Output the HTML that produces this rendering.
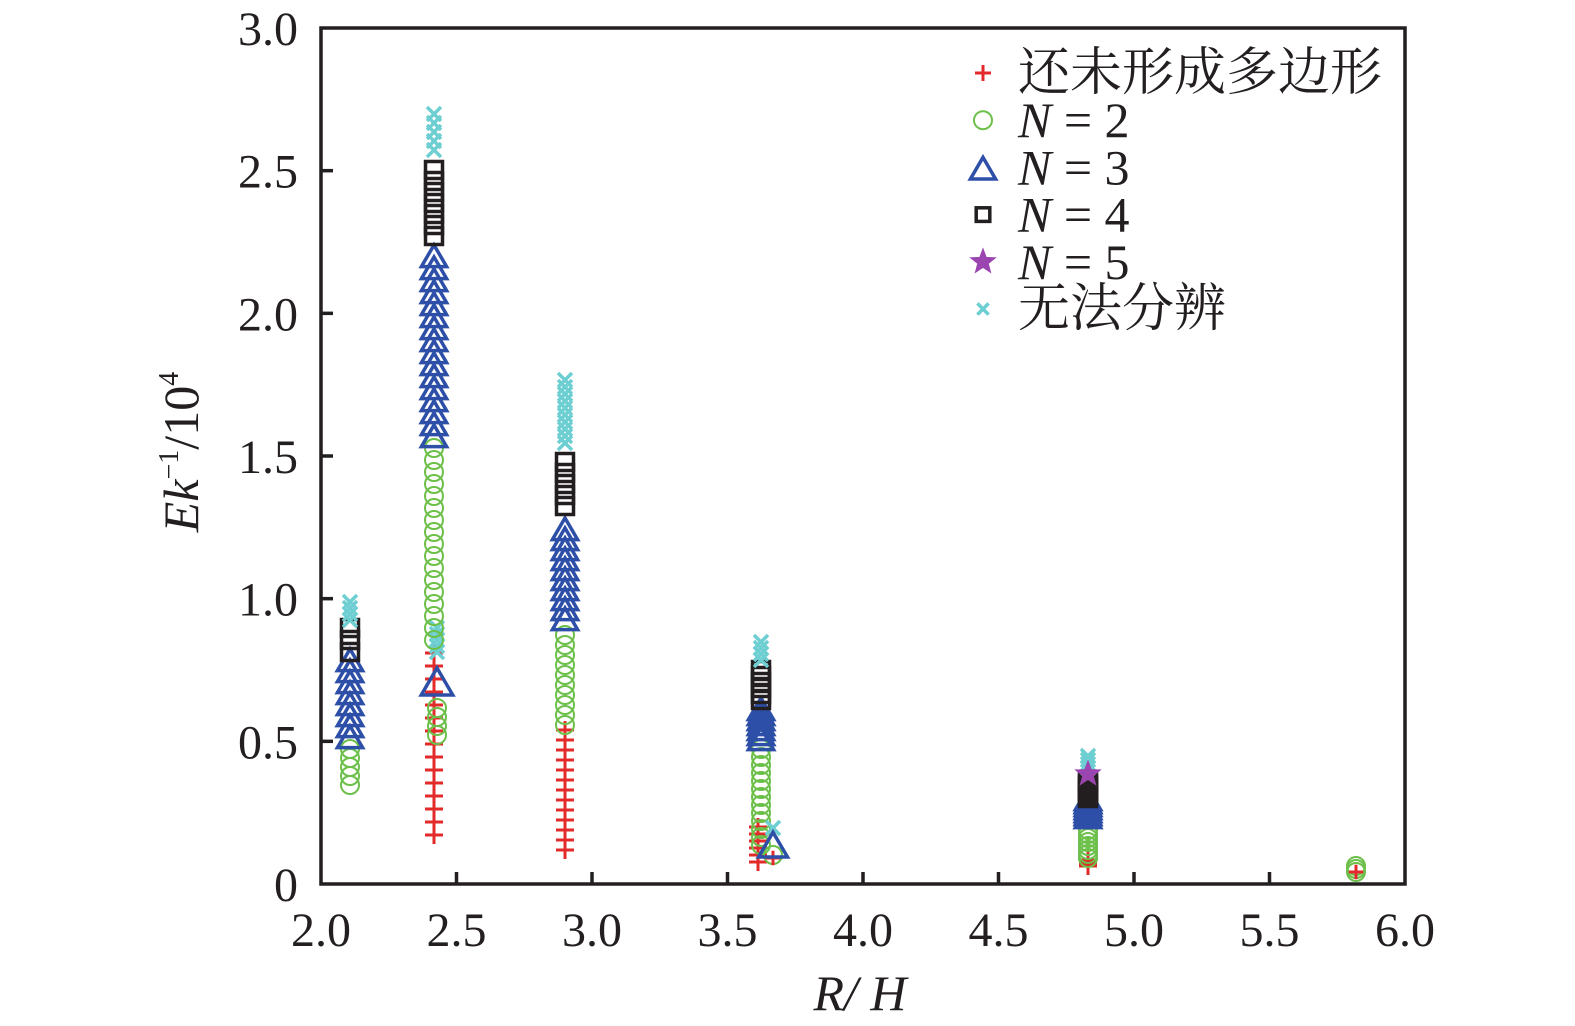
<!DOCTYPE html>
<html><head><meta charset="utf-8"><style>
html,body{margin:0;padding:0;background:#fff;width:1575px;height:1026px;overflow:hidden}
svg text{font-family:"Liberation Serif","Noto Serif CJK SC",serif;fill:#231f20}
</style></head><body>
<svg id="s" width="1575" height="1026" viewBox="0 0 1575 1026" xmlns="http://www.w3.org/2000/svg">
<g id="marks"></g>
<rect x="321" y="28" width="1084" height="856" fill="none" stroke="#231f20" stroke-width="3.5"/>
<g id="ticks" stroke="#231f20" stroke-width="3.5"></g>
<g font-size="48" text-anchor="end" id="ylab"></g>
<g font-size="48" text-anchor="middle" id="xlab"></g>
<text x="860" y="1010" font-size="50" text-anchor="middle" font-style="italic">R/ H</text>
<text transform="translate(198,452) rotate(-90)" font-size="50" text-anchor="middle"><tspan font-style="italic">Ek</tspan><tspan font-size="28" dy="-20">−1</tspan><tspan dy="20">/10</tspan><tspan font-size="28" dy="-20">4</tspan></text>
<g id="legend" font-size="50"></g>
</svg>
<script>
var NS="http://www.w3.org/2000/svg";
function el(p,t,a){var e=document.createElementNS(NS,t);for(var k in a)e.setAttribute(k,a[k]);p.appendChild(e);return e;}
var M=document.getElementById('marks');
var C={p:"#e32a2a",o:"#6cc04a",t:"#2e4fa8",q:"#231f20",s:"#9b45b0",x:"#6ecfd2"};
function mk(g,type,x,y,sc){sc=sc||1;
 if(type=='p'){el(g,'path',{d:'M'+(x-9*sc)+' '+y+'h'+18*sc+'M'+x+' '+(y-9*sc)+'v'+18*sc,stroke:C.p,'stroke-width':3,fill:'none'});}
 else if(type=='o'){el(g,'circle',{cx:x,cy:y,r:9*sc,stroke:C.o,'stroke-width':2,fill:'none'});}
 else if(type=='t'){var h=12*sc;el(g,'path',{d:'M'+x+' '+(y-h)+'L'+(x+h*1.05)+' '+(y+h*0.8)+'L'+(x-h*1.05)+' '+(y+h*0.8)+'Z',stroke:C.t,'stroke-width':3.5,fill:'none'});}
 else if(type=='q'){var a=8.5*sc;el(g,'rect',{x:x-a,y:y-a,width:2*a,height:2*a,stroke:C.q,'stroke-width':3.5,fill:'none'});}
 else if(type=='x'){var a=7*sc;el(g,'path',{d:'M'+(x-a)+' '+(y-a)+'L'+(x+a)+' '+(y+a)+'M'+(x+a)+' '+(y-a)+'L'+(x-a)+' '+(y+a),stroke:C.x,'stroke-width':3.5,fill:'none'});}
 else if(type=='s'){var d='';for(var i=0;i<10;i++){var r=(i%2?5.5:13)*sc,an=-Math.PI/2+i*Math.PI/5;d+=(i?'L':'M')+(x+r*Math.cos(an)).toFixed(1)+' '+(y+r*Math.sin(an)).toFixed(1);}el(g,'path',{d:d+'Z',fill:C.s,stroke:C.s,'stroke-width':1});}
}
function col(type,x,y0,y1,step,sc){if(y0>y1){for(var y=y0;y>=y1-0.01;y-=step)mk(M,type,x,y,sc);}else{for(var y=y0;y<=y1+0.01;y+=step)mk(M,type,x,y,sc);}}
col('o',350,785,745,9);col('t',350,738,660,11);col('q',350,652,626,12);col('x',350,620,602,6);
col('p',434,835,647,13);col('o',437,735,700,9);col('x',437,652,628,6);
col('o',434,640,445,12);col('t',434,437,255,12);mk(M,'t',437,683,1.25);
col('q',434,236,170,11);col('x',434,150,107,9);
col('p',565,850,728,10);col('o',565,725,630,10);col('t',565,620,525,10);col('q',565,506,452,11);col('x',565,443,378,7);
col('p',758,862,822,7);col('o',761,845,748,8);col('t',761,740,706,5);col('q',761,700,670,6);col('x',761,660,642,6);
mk(M,'o',773,855);mk(M,'p',773,858,0.8);mk(M,'x',773,828);mk(M,'t',773,846,1.15);
col('p',1088,866,858,3);col('o',1088,858,828,4);col('t',1088,818,800,3);col('q',1088,798,782,2);col('x',1088,768,755,4);mk(M,'s',1088,774,1);
col('o',1356,872,866,3);mk(M,'p',1356,872,0.8);
var T=document.getElementById('ticks'),YL=document.getElementById('ylab'),XL=document.getElementById('xlab');
for(var i=0;i<=6;i++){var v=i*0.5,y=884-v*285.33;if(i>0&&i<6)el(T,'line',{x1:321,x2:333,y1:y,y2:y});
 var t=el(YL,'text',{x:298,y:y+17});t.textContent=i==0?'0':v.toFixed(1);}
for(var i=0;i<=8;i++){var v=2+i*0.5,x=321+i*135.5;if(i>0&&i<8)el(T,'line',{x1:x,x2:x,y1:884,y2:872});
 var t=el(XL,'text',{x:x,y:946});t.textContent=v.toFixed(1);}
var L=document.getElementById('legend');
var rows=[['p','还未形成多边形'],['o','2'],['t','3'],['q','4'],['s','5'],['x','无法分辨']];
rows.forEach(function(r,i){var y=73+i*47.2;
 if(r[0]=='p'){el(L,'path',{d:'M975 '+y+'h16M983 '+(y-8)+'v16',stroke:C.p,'stroke-width':3,fill:'none'});}
 else if(r[0]=='o')mk(L,'o',983,y,1);else if(r[0]=='t')mk(L,'t',983,y+2,1);else if(r[0]=='q')mk(L,'q',983,y,0.8);else if(r[0]=='s')mk(L,'s',983,y,1);else mk(L,'x',983,y,0.8);
 var t=el(L,'text',{x:1018,y:y+17});
 if(r[0]=='p'||r[0]=='x'){t.textContent=r[1];t.setAttribute('font-size','52');}
 else{var a=el(t,'tspan',{'font-style':'italic'});a.textContent='N';var b=el(t,'tspan',{});b.textContent=' = '+r[1];}
});
</script>
</body></html>
